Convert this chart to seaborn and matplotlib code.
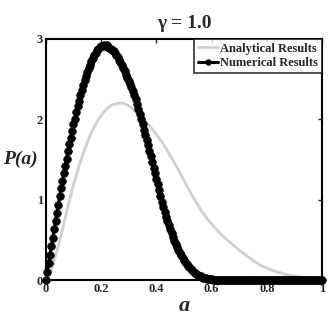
import numpy as np
import pandas as pd
import matplotlib
matplotlib.use('Agg')
import matplotlib.pyplot as plt
import seaborn as sns

# analytical curve, read at a = 0, 0.02, ..., 1
a_ana = np.linspace(0, 1, 51)
p_ana = [0.00, 0.12, 0.36, 0.63, 0.92, 1.18, 1.42, 1.62, 1.80, 1.94,
         2.05, 2.13, 2.18, 2.20, 2.20, 2.17, 2.11, 2.05, 1.98, 1.90,
         1.81, 1.72, 1.61, 1.49, 1.37, 1.24, 1.11, 0.99, 0.88, 0.78,
         0.70, 0.62, 0.55, 0.49, 0.43, 0.37, 0.32, 0.27, 0.22, 0.18,
         0.15, 0.12, 0.10, 0.08, 0.06, 0.05, 0.04, 0.03, 0.02, 0.01, 0.00]

# numerical results, read at a = 0, 0.005, ..., 1
a_num = np.linspace(0, 1, 201)
p_num = [0.00, 0.10, 0.21, 0.31, 0.42, 0.52, 0.63, 0.73, 0.84, 0.94,
         1.04, 1.14, 1.23, 1.33, 1.42, 1.51, 1.60, 1.69, 1.77, 1.86,
         1.94, 2.01, 2.09, 2.16, 2.23, 2.30, 2.37, 2.43, 2.49, 2.54,
         2.59, 2.64, 2.68, 2.72, 2.76, 2.80, 2.83, 2.86, 2.88, 2.90,
         2.91, 2.91, 2.92, 2.91, 2.92, 2.90, 2.89, 2.88, 2.86, 2.85,
         2.83, 2.80, 2.77, 2.74, 2.71, 2.67, 2.64, 2.60, 2.55, 2.52,
         2.48, 2.44, 2.40, 2.35, 2.30, 2.25, 2.19, 2.13, 2.07, 2.00,
         1.94, 1.87, 1.81, 1.74, 1.68, 1.61, 1.54, 1.47, 1.40, 1.33,
         1.26, 1.19, 1.12, 1.04, 0.97, 0.91, 0.85, 0.79, 0.74, 0.68,
         0.63, 0.58, 0.54, 0.49, 0.45, 0.41, 0.37, 0.34, 0.31, 0.28,
         0.25, 0.22, 0.20, 0.18, 0.16, 0.14, 0.12, 0.105, 0.09, 0.078,
         0.066, 0.056, 0.047, 0.039, 0.032, 0.026, 0.021, 0.017, 0.013, 0.010,
         0.008, 0.006, 0.005, 0.004, 0.003, 0.002, 0.002, 0.001, 0.001, 0.0,
         0.0, 0.0, 0.0, 0.0, 0.0, 0.0, 0.0, 0.0, 0.0, 0.0,
         0.0, 0.0, 0.0, 0.0, 0.0, 0.0, 0.0, 0.0, 0.0, 0.0,
         0.0, 0.0, 0.0, 0.0, 0.0, 0.0, 0.0, 0.0, 0.0, 0.0,
         0.0, 0.0, 0.0, 0.0, 0.0, 0.0, 0.0, 0.0, 0.0, 0.0,
         0.0, 0.0, 0.0, 0.0, 0.0, 0.0, 0.0, 0.0, 0.0, 0.0,
         0.0, 0.0, 0.0, 0.0, 0.0, 0.0, 0.0, 0.0, 0.0, 0.0,
         0.0, 0.0, 0.0, 0.0, 0.0, 0.0, 0.0, 0.0, 0.0, 0.0,
         0.0]

x_ticks = [0, 0.2, 0.4, 0.6, 0.8, 1]
x_ticklabels = ['0', '0.2', '0.4', '0.6', '0.8', '1']
y_ticks = [0, 1, 2, 3]

sns.set_style('white')
plt.rcParams['font.family'] = ['Liberation Serif', 'DejaVu Serif']
plt.rcParams['font.weight'] = 'bold'

fig = plt.figure(figsize=(3.3, 3.19), dpi=100)
ax = fig.add_axes([0.139, 0.122, 0.837, 0.756])

sns.lineplot(x=a_ana, y=p_ana, color='#d0d0d0', linewidth=2,
             label='Analytical Results', ax=ax)
sns.lineplot(x=a_num, y=p_num, color='black', linewidth=2.2, marker='o',
             markersize=5.5, markeredgecolor='black', markeredgewidth=0.5,
             label='Numerical Results', ax=ax, clip_on=False)

ax.set_xlim(0, 1)
ax.set_ylim(0, 3)
ax.set_xticks(x_ticks)
ax.set_xticklabels(x_ticklabels)
ax.set_yticks(y_ticks)
ax.tick_params(direction='in', length=3, width=1, top=True, right=True,
               labelsize=9, pad=2)
for lab in ax.get_xticklabels() + ax.get_yticklabels():
    lab.set_fontweight('bold')
for s in ax.spines.values():
    s.set_visible(True)
    s.set_linewidth(1.5)
    s.set_color('black')

ax.set_title('γ = 1.0', fontsize=14, fontweight='bold', pad=8)
ax.set_xlabel('a', fontsize=16, fontweight='bold', style='italic', labelpad=1)
ax.set_ylabel('P(a)', fontsize=14, fontweight='bold', style='italic',
              rotation=0, labelpad=12, va='center')

leg = ax.legend(loc='upper right', fontsize=9, frameon=True, fancybox=False,
                borderpad=0.3, handlelength=1.6, handletextpad=0.2,
                labelspacing=0.2, borderaxespad=0.0)
leg.get_frame().set_edgecolor('black')
leg.get_frame().set_linewidth(1.2)
for t in leg.get_texts():
    t.set_fontweight('bold')
for h in leg.legend_handles:
    h.set_markersize(4)

fig.savefig('out.png', dpi=100)
